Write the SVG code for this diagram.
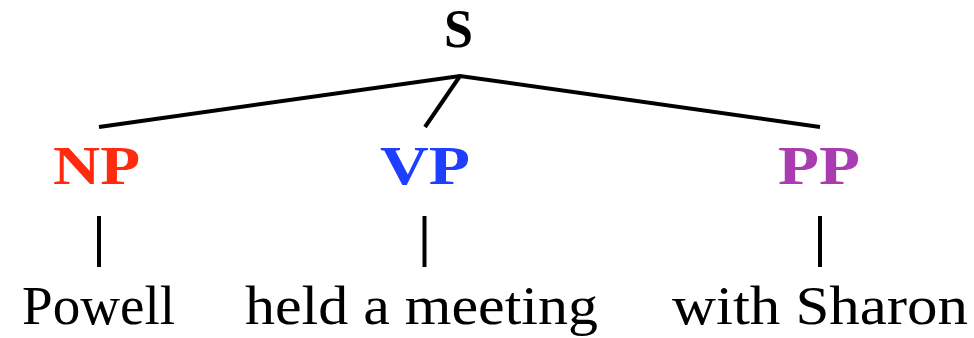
<svg xmlns="http://www.w3.org/2000/svg" width="974" height="338" viewBox="0 0 974 338">
<style>
.cat{font-family:"Liberation Serif","Times New Roman",serif;font-weight:bold;font-size:54px;}
.word{font-family:"Liberation Serif","Times New Roman",serif;font-size:55px;fill:#000;}
.edge{stroke:#000;stroke-width:4;fill:none;stroke-linecap:butt;}
</style>
<rect width="974" height="338" fill="#fff"/>
<g id="connectors">
<path class="edge" d="M99,127 L460,76 L820,127"/>
<line class="edge" x1="460" y1="76" x2="425" y2="127"/>
<line class="edge" x1="99" y1="216" x2="99" y2="267"/>
<line class="edge" x1="424.5" y1="216" x2="424.5" y2="267"/>
<line class="edge" x1="820" y1="216" x2="820" y2="267"/>
</g>
<g id="S"><text class="cat" x="444" y="47" textLength="29" lengthAdjust="spacingAndGlyphs" fill="#000">S</text></g>
<g id="NP"><text class="cat" x="53" y="184" textLength="87" lengthAdjust="spacingAndGlyphs" fill="#ff2b0f">NP</text></g>
<g id="VP"><text class="cat" x="380" y="184" textLength="90" lengthAdjust="spacingAndGlyphs" fill="#1f3fff">VP</text></g>
<g id="PP"><text class="cat" x="778" y="184" textLength="82" lengthAdjust="spacingAndGlyphs" fill="#a83cb0">PP</text></g>
<g id="Powell"><text class="word" x="22" y="324" textLength="153" lengthAdjust="spacingAndGlyphs">Powell</text></g>
<g id="held"><text class="word" x="245" y="324" textLength="353" lengthAdjust="spacingAndGlyphs">held a meeting</text></g>
<g id="with"><text class="word" x="672" y="324" textLength="296" lengthAdjust="spacingAndGlyphs">with Sharon</text></g>
</svg>
